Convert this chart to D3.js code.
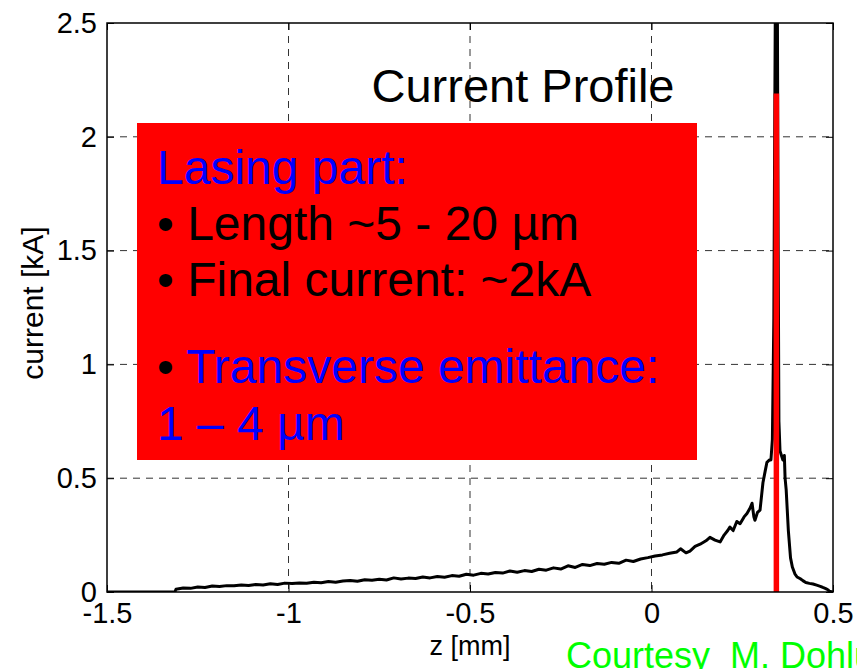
<!DOCTYPE html>
<html>
<head>
<meta charset="utf-8">
<script src="https://cdn.jsdelivr.net/npm/d3@7"></script>
<style>
    body { margin: 0; background: #fff; }
    svg { display: block; font-family: 'Liberation Sans', Arial, sans-serif; }
</style>
</head>
<body>
<div id="current-profile-graph"></div>
<script>
// beam current profile
const zValues = [
    -1.5, -1.313, -1.31, -1.29, -1.27, -1.25, -1.23, -1.21, -1.19, -1.17, -1.15, -1.13, -1.11, -1.09, -1.07,
    -1.05, -1.03, -1.01, -0.99, -0.97, -0.95, -0.93, -0.91, -0.89, -0.87, -0.85, -0.83, -0.81, -0.79, -0.77,
    -0.75, -0.73, -0.71, -0.69, -0.67, -0.65, -0.63, -0.61, -0.59, -0.57, -0.55, -0.53, -0.51, -0.49, -0.47,
    -0.45, -0.43, -0.41, -0.39, -0.37, -0.35, -0.33, -0.31, -0.29, -0.27, -0.25, -0.23, -0.21, -0.19, -0.17,
    -0.15, -0.13, -0.11, -0.09, -0.07, -0.05, -0.03, -0.01, 0.01, 0.03, 0.05, 0.07, 0.08, 0.095, 0.106,
    0.12, 0.134, 0.15, 0.161, 0.175, 0.189, 0.2, 0.21, 0.216, 0.225, 0.235, 0.244, 0.255, 0.263, 0.272,
    0.277, 0.282, 0.285, 0.292, 0.299, 0.303, 0.307, 0.313, 0.318, 0.325, 0.329, 0.333, 0.337, 0.339, 0.3415,
    0.344, 0.3465, 0.349, 0.351, 0.354, 0.358, 0.362, 0.366, 0.368, 0.371, 0.377, 0.383, 0.388, 0.395, 0.401,
    0.41, 0.417, 0.425, 0.435, 0.445, 0.455, 0.465, 0.472, 0.48, 0.486, 0.49, 0.5
];
const currentValues = [
    0, 0, 0.012, 0.018, 0.016, 0.022, 0.02, 0.026, 0.024, 0.028, 0.027, 0.031, 0.029, 0.033, 0.031,
    0.036, 0.033, 0.039, 0.037, 0.04, 0.038, 0.043, 0.041, 0.046, 0.043, 0.048, 0.051, 0.047, 0.054, 0.052,
    0.056, 0.053, 0.062, 0.057, 0.061, 0.059, 0.066, 0.062, 0.068, 0.065, 0.072, 0.069, 0.078, 0.074, 0.082,
    0.079, 0.086, 0.083, 0.092, 0.087, 0.094, 0.09, 0.1, 0.096, 0.106, 0.101, 0.115, 0.108, 0.121, 0.116,
    0.125, 0.122, 0.13, 0.126, 0.14, 0.134, 0.145, 0.151, 0.158, 0.163, 0.17, 0.176, 0.19, 0.172, 0.18,
    0.2, 0.21, 0.225, 0.24, 0.228, 0.22, 0.25, 0.27, 0.285, 0.27, 0.31, 0.3, 0.33, 0.345, 0.37,
    0.39, 0.33, 0.315, 0.35, 0.36, 0.42, 0.48, 0.53, 0.57, 0.58, 0.58, 0.67, 1.2, 1.9, 2.7,
    3.0, 2.7, 1.5, 0.75, 0.62, 0.6, 0.58, 0.6, 0.5, 0.45, 0.27, 0.15, 0.11, 0.08, 0.066,
    0.058, 0.05, 0.042, 0.038, 0.035, 0.03, 0.025, 0.02, 0.015, 0.01, 0.003, 0
];

// lasing slice marker
const lasingZ = [0.344];
const lasingCurrent = [2.19];

const xTicks = [-1.5, -1, -0.5, 0, 0.5];
const yTicks = [0, 0.5, 1, 1.5, 2, 2.5];

const boxLines = [
    { bullet: false, text: 'Lasing part:', color: '#0000ff' },
    { bullet: true, text: 'Length ~5 - 20 µm', color: '#000000' },
    { bullet: true, text: 'Final current: ~2kA', color: '#000000' },
    { bullet: true, text: 'Transverse emittance:', color: '#0000ff' },
    { bullet: false, text: '1 – 4 µm', color: '#0000ff' }
];

const margin = { top: 23, right: 24, bottom: 77, left: 107 };
const width = 857 - margin.left - margin.right;
const height = 669 - margin.top - margin.bottom;

const root = d3.select('#current-profile-graph')
    .append('svg')
    .attr('width', 857)
    .attr('height', 669);

const svg = root.append('g')
    .attr('transform', `translate(${margin.left},${margin.top})`);

const x = d3.scaleLinear()
    .domain([-1.5, 0.5])
    .range([0, width]);

const y = d3.scaleLinear()
    .domain([0, 2.5])
    .range([height, 0]);

svg.append('clipPath')
    .attr('id', 'plot-clip')
    .append('rect')
    .attr('width', width)
    .attr('height', height);

// dashed grid
svg.append('g')
    .selectAll('line')
    .data(xTicks.slice(1, -1))
    .enter()
    .append('line')
    .attr('x1', d => x(d))
    .attr('x2', d => x(d))
    .attr('y1', 0)
    .attr('y2', height)
    .attr('stroke', '#333')
    .attr('stroke-dasharray', '7,6');

svg.append('g')
    .selectAll('line')
    .data(yTicks.slice(1, -1))
    .enter()
    .append('line')
    .attr('y1', d => y(d))
    .attr('y2', d => y(d))
    .attr('x1', 0)
    .attr('x2', width)
    .attr('stroke', '#333')
    .attr('stroke-dasharray', '7,6');

const profile = zValues.map((z, i) => ({ z: z, current: currentValues[i] }));

const line = d3.line()
    .x(d => x(d.z))
    .y(d => y(d.current));

svg.append('path')
    .datum(profile)
    .attr('clip-path', 'url(#plot-clip)')
    .attr('fill', 'none')
    .attr('stroke', '#000')
    .attr('stroke-width', 3)
    .attr('stroke-linejoin', 'round')
    .attr('d', line);

svg.append('g')
    .selectAll('line')
    .data(lasingZ)
    .enter()
    .append('line')
    .attr('x1', d => x(d))
    .attr('x2', d => x(d))
    .attr('y1', y(0))
    .attr('y2', (d, i) => y(lasingCurrent[i]))
    .attr('stroke', '#ff0000')
    .attr('stroke-width', 5.5);

// axes, ticks pointing inward like matlab
const tickFont = g => g.selectAll('text')
    .attr('font-size', 29)
    .attr('font-family', "'Liberation Sans', Arial, sans-serif")
    .attr('fill', '#000');

svg.append('g')
    .attr('transform', `translate(0,${height})`)
    .call(d3.axisBottom(x).tickValues(xTicks).tickFormat(d => String(d)).tickSize(-7).tickPadding(10))
    .call(tickFont)
    .call(g => g.select('.domain').remove());

svg.append('g')
    .call(d3.axisLeft(y).tickValues(yTicks).tickFormat(d => String(d)).tickSize(-7).tickPadding(10))
    .call(tickFont)
    .call(g => g.select('.domain').remove());

svg.append('g')
    .call(d3.axisTop(x).tickValues(xTicks).tickFormat('').tickSize(-7))
    .call(g => g.select('.domain').remove());

svg.append('g')
    .attr('transform', `translate(${width},0)`)
    .call(d3.axisRight(y).tickValues(yTicks).tickFormat('').tickSize(-7))
    .call(g => g.select('.domain').remove());

svg.append('rect')
    .attr('width', width)
    .attr('height', height)
    .attr('fill', 'none')
    .attr('stroke', '#000')
    .attr('stroke-width', 1.5);

svg.append('text')
    .attr('x', width / 2)
    .attr('y', 655 - margin.top)
    .attr('text-anchor', 'middle')
    .attr('font-size', 27)
    .text('z [mm]');

svg.append('text')
    .attr('transform', `translate(${43 - margin.left},${303 - margin.top}) rotate(-90)`)
    .attr('text-anchor', 'middle')
    .attr('font-size', 30)
    .text('current [kA]');

svg.append('text')
    .attr('x', 523 - margin.left)
    .attr('y', 102 - margin.top)
    .attr('text-anchor', 'middle')
    .attr('font-size', 47)
    .text('Current Profile');

// annotation box
root.append('rect')
    .attr('x', 137)
    .attr('y', 123)
    .attr('width', 560)
    .attr('height', 337)
    .attr('fill', '#ff0000');

const boxBaselines = [184, 240, 296, 383, 440];

const boxText = root.append('g')
    .selectAll('text')
    .data(boxLines)
    .enter()
    .append('text')
    .attr('x', 157)
    .attr('y', (d, i) => boxBaselines[i])
    .attr('font-size', 48);

boxText.filter(d => d.bullet)
    .append('tspan')
    .attr('fill', '#000')
    .text('• ');

boxText.append('tspan')
    .attr('fill', d => d.color)
    .text(d => d.text);

root.append('text')
    .attr('x', 566)
    .attr('y', 668)
    .attr('font-size', 36)
    .attr('fill', '#00ff00')
    .text('Courtesy\u00a0 M. Dohlus');
</script>
</body>
</html>
